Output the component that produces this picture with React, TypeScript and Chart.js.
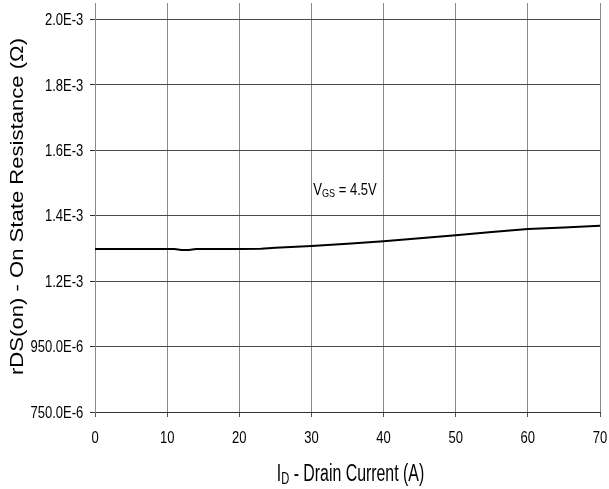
import { useEffect, useRef } from "react";
import { Chart, registerables } from "chart.js";

Chart.register(...registerables);

// Drain current (A) and measured on-state resistance (Ω)
const currents = [0, 5, 10, 11, 12, 13, 14, 20, 23, 25, 30, 35, 40, 45, 50, 55, 60, 65, 70];
const rdsOn = [
  1.248e-3, 1.248e-3, 1.248e-3, 1.248e-3, 1.245e-3, 1.245e-3, 1.248e-3, 1.248e-3, 1.249e-3,
  1.252e-3, 1.257e-3, 1.264e-3, 1.272e-3, 1.281e-3, 1.29e-3, 1.3e-3, 1.309e-3, 1.314e-3, 1.319e-3,
];

const xTickValues = [0, 10, 20, 30, 40, 50, 60, 70];
const xTickLabels = ["0", "10", "20", "30", "40", "50", "60", "70"];
const yTickValues = [750e-6, 950e-6, 1150e-6, 1350e-6, 1550e-6, 1750e-6, 1950e-6];
const yTickLabels = ["750.0E-6", "950.0E-6", "1.2E-3", "1.4E-3", "1.6E-3", "1.8E-3", "2.0E-3"];
const xMin = 0;
const xMax = 70;
const yMin = 750e-6;
const yMax = 2000e-6;

// Curve annotation, anchored in data units
const annotationAt = { x: 30.25, y: 1.414e-3 };

const FONT = '"Liberation Sans", Arial, sans-serif';

type Seg = { text: string; sub?: boolean };

// Draws a run of text (with optional subscripts), narrowed horizontally by `squeeze`
function drawRich(
  ctx: CanvasRenderingContext2D,
  segs: Seg[],
  size: number,
  squeeze: number,
  align: "left" | "center" | "right"
) {
  const subSize = size * 0.7;
  const subDrop = size * 0.15;
  const widths = segs.map((s) => {
    ctx.font = `${s.sub ? subSize : size}px ${FONT}`;
    return ctx.measureText(s.text).width;
  });
  const total = widths.reduce((a, b) => a + b, 0);
  ctx.save();
  ctx.scale(squeeze, 1);
  let cx = align === "center" ? -total / 2 : align === "right" ? -total : 0;
  ctx.textAlign = "left";
  ctx.textBaseline = "alphabetic";
  segs.forEach((s, i) => {
    ctx.font = `${s.sub ? subSize : size}px ${FONT}`;
    ctx.fillText(s.text, cx, s.sub ? subDrop : 0);
    cx += widths[i];
  });
  ctx.restore();
}

const textPlugin = {
  id: "axisText",
  afterDraw(chart: Chart) {
    const ctx = chart.ctx;
    const xs = chart.scales.x;
    const ys = chart.scales.y;
    const area = chart.chartArea;
    ctx.save();
    ctx.fillStyle = "#000";

    // y tick labels
    yTickValues.forEach((v, i) => {
      const py = ys.getPixelForValue(v);
      ctx.save();
      ctx.translate(area.left - 11.7, py + 5.8);
      drawRich(ctx, [{ text: yTickLabels[i] }], 16.3, 0.8, "right");
      ctx.restore();
    });

    // x tick labels
    xTickValues.forEach((v, i) => {
      const px = xs.getPixelForValue(v);
      ctx.save();
      ctx.translate(px, area.bottom + 31.3);
      drawRich(ctx, [{ text: xTickLabels[i] }], 16.3, 0.8, "center");
      ctx.restore();
    });

    // x axis title
    ctx.save();
    ctx.translate((area.left + area.right) / 2 + 3, area.bottom + 69);
    drawRich(
      ctx,
      [{ text: "I" }, { text: "D", sub: true }, { text: " - Drain Current (A)" }],
      23,
      0.69,
      "center"
    );
    ctx.restore();

    // y axis title
    ctx.save();
    ctx.translate(23.3, (area.top + area.bottom) / 2 - 1);
    ctx.rotate(-Math.PI / 2);
    ctx.scale(1, 0.84);
    ctx.font = `22.1px ${FONT}`;
    ctx.textAlign = "center";
    ctx.textBaseline = "alphabetic";
    ctx.fillText("rDS(on) - On State Resistance (Ω)", 0, 0);
    ctx.restore();

    // curve label
    ctx.save();
    ctx.translate(xs.getPixelForValue(annotationAt.x), ys.getPixelForValue(annotationAt.y));
    drawRich(
      ctx,
      [{ text: "V" }, { text: "GS", sub: true }, { text: " = 4.5V" }],
      16.3,
      0.8,
      "left"
    );
    ctx.restore();

    ctx.restore();
  },
};

export default function App() {
  const canvasRef = useRef<HTMLCanvasElement | null>(null);

  useEffect(() => {
    const canvas = canvasRef.current;
    if (!canvas) return;
    const chart = new Chart(canvas, {
      type: "line",
      data: {
        datasets: [
          {
            data: currents.map((x, i) => ({ x, y: rdsOn[i] })),
            borderColor: "#000",
            borderWidth: 2,
            pointRadius: 0,
            tension: 0,
            fill: false,
          },
        ],
      },
      options: {
        animation: false,
        responsive: false,
        devicePixelRatio: 1,
        layout: { padding: { top: 3, right: 9, left: 0, bottom: 0 } },
        plugins: { legend: { display: false }, tooltip: { enabled: false } },
        scales: {
          x: {
            type: "linear",
            min: xMin,
            max: xMax,
            afterBuildTicks: (s: any) => {
              s.ticks = xTickValues.map((value) => ({ value }));
            },
            afterFit: (s: any) => {
              s.height = 77;
            },
            ticks: { display: false },
            grid: {
              color: "#8a8a8a",
              lineWidth: 1,
              drawTicks: true,
              tickLength: 5,
              tickColor: "#555",
            },
            border: { display: true, color: "#333", width: 1 },
          },
          y: {
            type: "linear",
            min: yMin,
            max: yMax,
            afterBuildTicks: (s: any) => {
              s.ticks = yTickValues.map((value) => ({ value }));
            },
            afterFit: (s: any) => {
              s.width = 95;
            },
            ticks: { display: false },
            grid: {
              color: "#4a4a4a",
              lineWidth: 1,
              drawTicks: true,
              tickLength: 5,
              tickColor: "#333",
            },
            border: { display: true, color: "#8a8a8a", width: 1 },
          },
        },
      },
      plugins: [textPlugin],
    });
    return () => chart.destroy();
  }, []);

  return (
    <div style={{ position: "fixed", left: 0, top: 0, width: 609, height: 489, background: "#fff" }}>
      <canvas ref={canvasRef} width={609} height={489} style={{ display: "block" }} />
    </div>
  );
}
